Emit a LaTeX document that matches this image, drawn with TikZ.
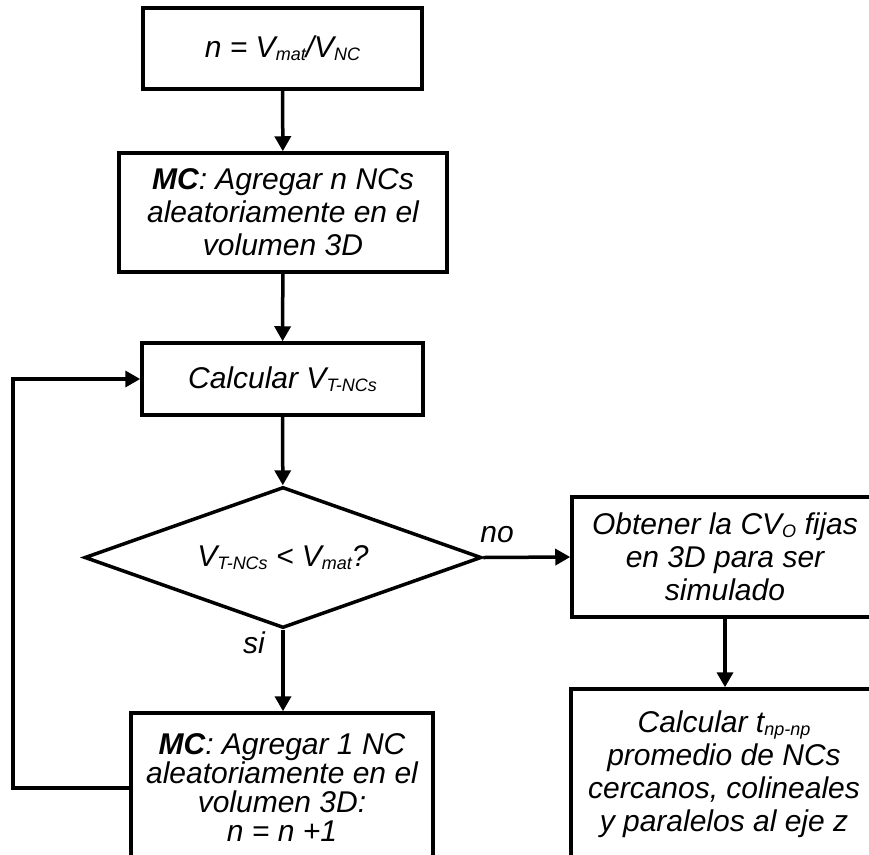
\documentclass[tikz,border=0pt]{standalone}
\usepackage{fontspec}
\setmainfont{Liberation Sans}
\usetikzlibrary{arrows.meta,shapes.geometric}

% lowered, smaller index text (e.g. V_mat)
\newcommand{\lowidx}[1]{\raisebox{-3pt}{\fontsize{18}{18}\selectfont #1}}

\begin{document}
\begin{tikzpicture}[x=1pt,y=-1pt,
  every node/.style={font=\fontsize{30}{33}\selectfont\itshape},
  stepbox/.style={draw,line width=3.5pt,align=center,inner sep=0pt},
  decision/.style={draw,line width=3.5pt,diamond,aspect=2.8,inner sep=0pt,
    minimum width=397pt,minimum height=141pt},
  flow/.style={line width=3.5pt,-{Triangle[length=15pt,width=16pt]}},
  tag/.style={inner sep=0pt}]

\useasboundingbox (0,0) rectangle (869,854);
\fill[white] (0,0) rectangle (869,854);
\clip (0,0) rectangle (869,854);

% main column
\node[stepbox,minimum width=279pt,minimum height=81pt] (b1) at (282.5,48.5)
  {n = V\lowidx{mat}/V\lowidx{NC}};
\node[stepbox,minimum width=328pt,minimum height=119pt] (b2) at (283,212.5)
  {\textbf{MC}: Agregar n NCs\\aleatoriamente en el\\volumen 3D};
\node[stepbox,minimum width=281pt,minimum height=72pt] (b3) at (282.5,379)
  {Calcular V\lowidx{T-NCs}};
\node[decision] (d) at (283,557.5) {V\lowidx{T-NCs} < V\lowidx{mat}?};
\node[stepbox,minimum width=302pt,minimum height=150pt,
  font=\fontsize{30}{29}\selectfont\itshape] (b6) at (282,788)
  {\textbf{MC}: Agregar 1 NC\\aleatoriamente en el\\volumen 3D:\\n = n +1};

% right column
\node[stepbox,minimum width=306pt,minimum height=120pt] (b4) at (725,557)
  {Obtener la CV\lowidx{O} fijas\\en 3D para ser\\simulado};
\node[stepbox,minimum width=306pt,minimum height=170pt] (b5) at (724,774)
  {Calcular t\lowidx{np-np}\\promedio de NCs\\cercanos, colineales\\y paralelos al eje z};

% branch labels
\node[tag] (no) at (497,535) {no};
\node[tag] (si) at (254,643) {si};

% connectors
\coordinate (loopx) at (13,0);
\draw[flow] (b1) -- (b2);
\draw[flow] (b2) -- (b3);
\draw[flow] (b3) -- (d);
\draw[flow] (d.east) -- (b4.west);
\draw[flow] (b4) -- (b4 |- b5.north);
\draw[flow] (d.south) -- (d.south |- b6.north);
\draw[flow] (b6.west) -- (b6.west -| loopx) |- (b3.west);
\end{tikzpicture}
\end{document}
